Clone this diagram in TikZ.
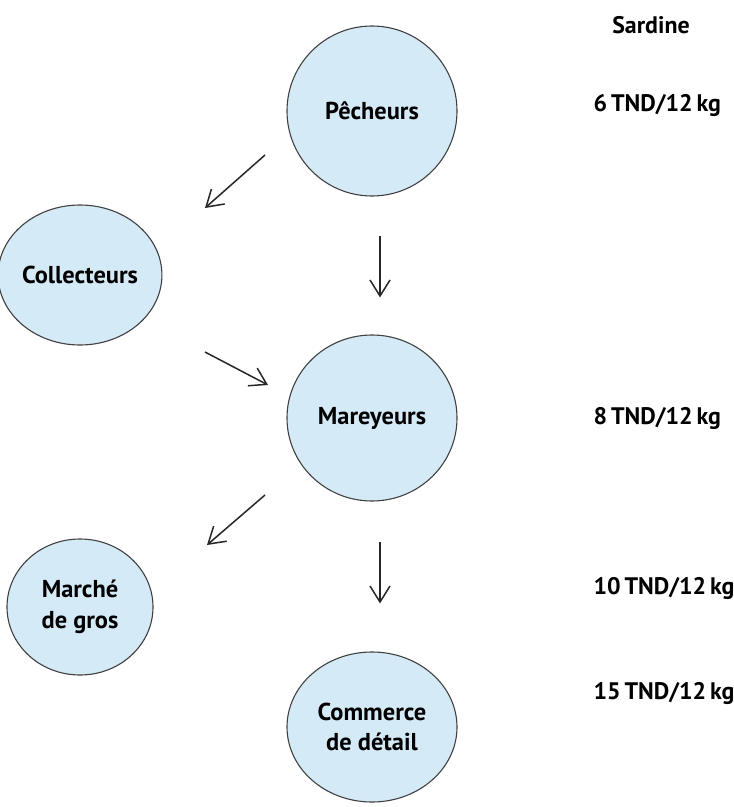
\documentclass[tikz,border=0pt]{standalone}
\usepackage{fontspec}
\setmainfont{PT Sans}
\usepackage{xcolor}
\usetikzlibrary{arrows.meta, positioning, calc, shapes.geometric}
\definecolor{bulle}{RGB}{212,234,246}
\tikzset{
  acteur/.style={ellipse, draw=black!75, fill=bulle, line width=1.1pt, align=center, font=\fontsize{24.5}{31}\selectfont\bfseries, inner sep=0pt},
  prix/.style={anchor=west, font=\fontsize{24}{28}\selectfont\bfseries},
  fleche/.style={-{Straight Barb[length=16bp, width=20bp, line width=1.5pt]}, line width=1.5pt, black!85},
}

\begin{document}
\begin{tikzpicture}[x=1bp, y=-1bp]
  \useasboundingbox (0,0) rectangle (734,807);
  % chaine de commercialisation
  \node[acteur, minimum width=170bp, minimum height=170bp] (pech) at (372, 111) {P\^echeurs};
  \node[acteur, minimum width=146bp, minimum height=140bp] (coll) at (80, 275) {Collecteurs};
  \node[acteur, minimum width=170bp, minimum height=166bp] (mare) at (372, 418) {Mareyeurs};
  \node[acteur, minimum width=146bp, minimum height=136bp] (gros) at (80, 607) {March\'e\\de gros};
  \node[acteur, minimum width=170bp, minimum height=150bp] (detail) at (372, 727) {Commerce\\de d\'etail};
  % points des fleches
  \coordinate (f1a) at ($(pech)+(-107, 44)$);
  \coordinate (f1b) at ($(coll)+(125, -67)$);
  \coordinate (f3a) at ($(coll)+(125, 77)$);
  \coordinate (f3b) at ($(mare)+(-104, -33)$);
  \coordinate (f4a) at ($(mare)+(-107, 77)$);
  \coordinate (f4b) at ($(gros)+(127, -62)$);
  \draw[fleche] (f1a) -- (f1b);
  \draw[fleche, shorten <=39bp, shorten >=37bp] ([xshift=8bp]pech.south) -- ([xshift=8bp]mare.north);
  \draw[fleche] (f3a) -- (f3b);
  \draw[fleche] (f4a) -- (f4b);
  \draw[fleche, shorten <=40bp, shorten >=48bp] ([xshift=8bp]mare.south) -- ([xshift=8bp]detail.north);
  % prix
  \node[font=\fontsize{24}{28}\selectfont\bfseries] (sard) at (651, 25) {Sardine};
  \node[prix] (p1) at (590, 105) {6\,TND/12\,kg};
  \node[prix] (p2) at (590, 418) {8\,TND/12\,kg};
  \node[prix] (p3) at (590, 588) {10\,TND/12\,kg};
  \node[prix] (p4) at (590, 693) {15\,TND/12\,kg};
\end{tikzpicture}
\end{document}
